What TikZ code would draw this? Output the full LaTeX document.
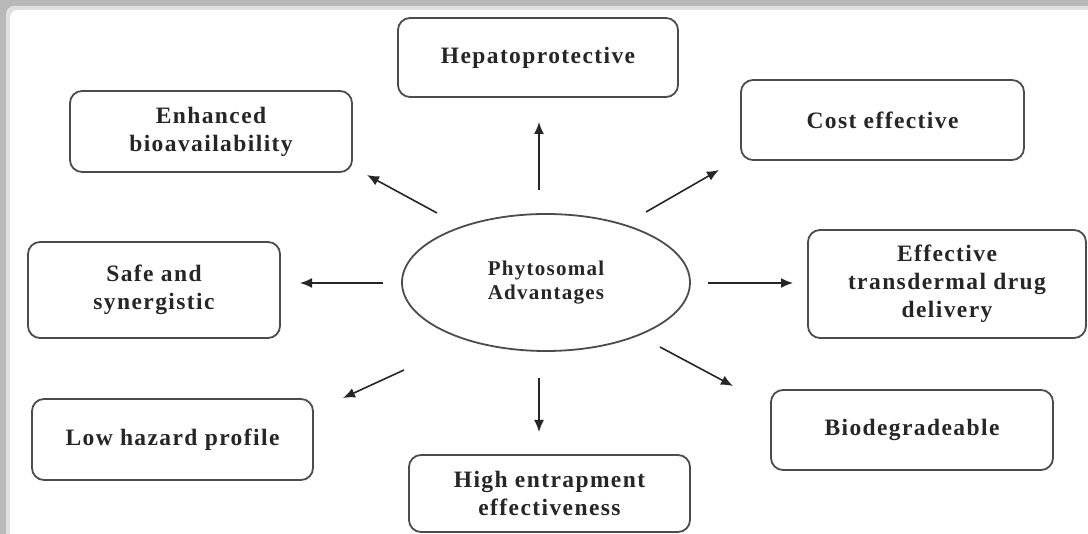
\documentclass[tikz,border=0pt]{standalone}
\usepackage{fontspec}
\setmainfont{Liberation Serif}
\newfontfamily\lab[LetterSpace=6]{Liberation Serif}
\usetikzlibrary{arrows.meta,shapes.geometric}
\begin{document}
\begin{tikzpicture}[x=1pt,y=-1pt,
  box/.style={draw=black!70, line width=1.8pt, rounded corners=12pt, align=center,
    text=black!85, font=\lab\bfseries\fontsize{23.5}{28}\selectfont, inner sep=0pt},
  oval/.style={draw=black!70, line width=1.8pt, ellipse, align=center, inner sep=0pt,
    text=black!85, font=\lab\bfseries\fontsize{21}{24}\selectfont},
  arr/.style={draw=black!85, line width=1.6pt, -{Latex[length=12pt,width=10pt]}}]
\useasboundingbox (0,0) rectangle (1088,534);
\fill[gray!55] (0,0) rectangle (1088,534);
\fill[gray!25, rounded corners=8pt] (6,6) rectangle (1110,560);
\fill[white, rounded corners=8pt] (10,10) rectangle (1110,560);

\node[box, minimum width=280pt, minimum height=79pt] (hep) at (538,57.5) {Hepatoprotective};
\node[box, minimum width=282pt, minimum height=81pt] (enh) at (211,131.5) {Enhanced\\bioavailability};
\node[box, minimum width=283pt, minimum height=80pt] (cost) at (882.5,120) {Cost effective};
\node[box, minimum width=252pt, minimum height=96pt] (safe) at (154,290) {Safe and\\synergistic};
\node[oval, minimum width=288pt, minimum height=137pt] (ph) at (546,282.5) {Phytosomal\\Advantages};
\node[box, minimum width=278pt, minimum height=108pt] (trans) at (947,284) {Effective\\transdermal drug\\delivery};
\node[box, minimum width=281pt, minimum height=81pt] (low) at (172.5,439.5) {Low hazard profile};
\node[box, minimum width=281pt, minimum height=77pt] (high) at (549.5,493.5) {High entrapment\\effectiveness};
\node[box, minimum width=282pt, minimum height=80pt] (bio) at (912,430) {Biodegradeable};

\coordinate (s1) at (539,190); \coordinate (e1) at (539,122);
\coordinate (s2) at (437,213); \coordinate (e2) at (367,175);
\coordinate (s3) at (646,212); \coordinate (e3) at (719,170);
\coordinate (s4) at (383,283); \coordinate (e4) at (300,283);
\coordinate (s5) at (708,283); \coordinate (e5) at (793,283);
\coordinate (s6) at (404,370); \coordinate (e6) at (343,398);
\coordinate (s7) at (539,378); \coordinate (e7) at (539,432);
\coordinate (s8) at (660,347); \coordinate (e8) at (733,386);
\foreach \i in {1,...,8} {\draw[arr] (s\i) -- (e\i);}
\end{tikzpicture}
\end{document}
